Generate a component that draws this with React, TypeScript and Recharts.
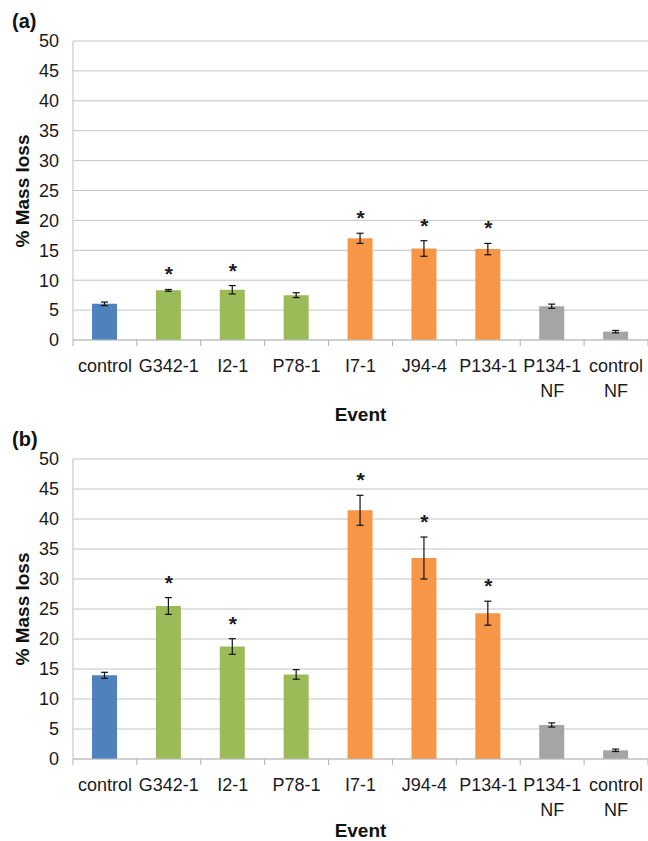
import React from "react";
import {
  BarChart,
  Bar,
  Cell,
  XAxis,
  YAxis,
  CartesianGrid,
  ErrorBar,
  ReferenceDot,
} from "recharts";

// events along the x axis, and which group each one belongs to
const events = [
  "control",
  "G342-1",
  "I2-1",
  "P78-1",
  "I7-1",
  "J94-4",
  "P134-1",
  "P134-1 NF",
  "control NF",
];
const groups = ["ctrl", "g", "g", "g", "o", "o", "o", "nf", "nf", "nf"];

// panel (a)
const lossA = [6.05, 8.3, 8.4, 7.5, 17.0, 15.3, 15.2, 5.65, 1.4];
const errA = [0.3, 0.15, 0.7, 0.4, 0.85, 1.3, 0.95, 0.35, 0.2];
const sigA = [false, true, true, false, true, true, true, false, false];

// panel (b)
const lossB = [13.95, 25.5, 18.75, 14.1, 41.45, 33.5, 24.3, 5.67, 1.45];
const errB = [0.5, 1.4, 1.3, 0.8, 2.5, 3.5, 2.0, 0.35, 0.2];
const sigB = [false, true, true, false, true, true, true, false, false];

const yTicks = [0, 5, 10, 15, 20, 25, 30, 35, 40, 45, 50];

const colors: Record<string, string> = {
  ctrl: "#4F81BD",
  g: "#9BBB59",
  o: "#F79646",
  nf: "#A5A5A5",
};

const FONT = '"Liberation Sans", Arial, sans-serif';
const W = 648;
const AXIS_W = 73;
const BAND = (W - AXIS_W) / events.length;

function EventTick(props: any) {
  const { x, y, payload, index } = props;
  const axisY = y - 2;
  const lines = String(payload.value).split(" ");
  return (
    <g>
      <line x1={x - BAND / 2} x2={x - BAND / 2} y1={axisY} y2={axisY + 6} stroke="#b0b0b0" />
      {index === events.length - 1 && (
        <line x1={x + BAND / 2} x2={x + BAND / 2} y1={axisY} y2={axisY + 6} stroke="#b0b0b0" />
      )}
      {lines.map((l, i) => (
        <text
          key={i}
          x={x}
          y={axisY + 32 + i * 25}
          textAnchor="middle"
          fontSize={18}
          fontFamily={FONT}
          fill="#1a1a1a"
        >
          {l}
        </text>
      ))}
    </g>
  );
}

const Asterisk = (props: any) => (
  <text
    x={props.cx}
    y={props.cy - 8}
    textAnchor="middle"
    fontSize={21}
    fontWeight="bold"
    fontFamily={FONT}
    fill="#1a1a1a"
  >
    *
  </text>
);

function Panel(props: {
  letter: string;
  loss: number[];
  err: number[];
  sig: boolean[];
  height: number;
  top: number;
  plotTop: number;
  xAxisH: number;
  eventY: number;
}) {
  const rows = events.map((e, i) => ({
    event: e,
    loss: props.loss[i],
    err: props.err[i],
    group: groups[i],
    sig: props.sig[i],
  }));
  const plotBottom = props.height - props.xAxisH;
  return (
    <div style={{ position: "absolute", left: 0, top: props.top, width: W, height: props.height }}>
      <BarChart
        width={W}
        height={props.height}
        data={rows}
        margin={{ top: props.plotTop, right: 0, left: 0, bottom: 0 }}
      >
        <CartesianGrid vertical={false} stroke="#c4c4c4" />
        <XAxis
          dataKey="event"
          interval={0}
          tickLine={false}
          tickSize={0}
          tickMargin={2}
          height={props.xAxisH}
          axisLine={{ stroke: "#bfbfbf" }}
          tick={<EventTick />}
        />
        <YAxis
          domain={[0, 50]}
          ticks={yTicks}
          interval={0}
          width={AXIS_W}
          tickLine={false}
          axisLine={{ stroke: "#bfbfbf" }}
          tickMargin={8}
          tick={{ fontSize: 18, fontFamily: FONT, fill: "#1a1a1a" }}
        />
        <Bar dataKey="loss" barSize={25} isAnimationActive={false}>
          {rows.map((r) => (
            <Cell key={r.event} fill={colors[r.group]} />
          ))}
          <ErrorBar dataKey="err" width={3.5} stroke="#111" strokeWidth={1.2} />
        </Bar>
        {rows
          .filter((r) => r.sig)
          .map((r) => (
            <ReferenceDot
              key={r.event}
              x={r.event}
              y={r.loss + r.err}
              r={0}
              shape={Asterisk}
            />
          ))}
      </BarChart>
      <div
        style={{
          position: "absolute",
          left: 12,
          top: props.plotTop - 30,
          fontFamily: FONT,
          fontWeight: "bold",
          fontSize: 20,
          lineHeight: "20px",
          color: "#111",
        }}
      >
        {props.letter}
      </div>
      <div
        style={{
          position: "absolute",
          left: 21.5,
          top: (props.plotTop + plotBottom) / 2,
          transform: "translate(-50%, -50%) rotate(-90deg)",
          whiteSpace: "nowrap",
          fontFamily: FONT,
          fontWeight: "bold",
          fontSize: 19,
          lineHeight: "19px",
          color: "#111",
        }}
      >
        % Mass loss
      </div>
      <div
        style={{
          position: "absolute",
          left: AXIS_W + (W - AXIS_W) / 2,
          top: props.eventY,
          transform: "translate(-50%, -100%)",
          whiteSpace: "nowrap",
          fontFamily: FONT,
          fontWeight: "bold",
          fontSize: 19,
          lineHeight: "19px",
          color: "#111",
        }}
      >
        Event
      </div>
    </div>
  );
}

export default function App() {
  return (
    <div style={{ position: "absolute", left: 0, top: 0, width: W, height: 841, background: "#fff" }}>
      <Panel letter="(a)" loss={lossA} err={errA} sig={sigA} top={0} height={420} plotTop={41} xAxisH={80} eventY={424} />
      <Panel letter="(b)" loss={lossB} err={errB} sig={sigB} top={420} height={421} plotTop={39} xAxisH={82} eventY={420} />
    </div>
  );
}
